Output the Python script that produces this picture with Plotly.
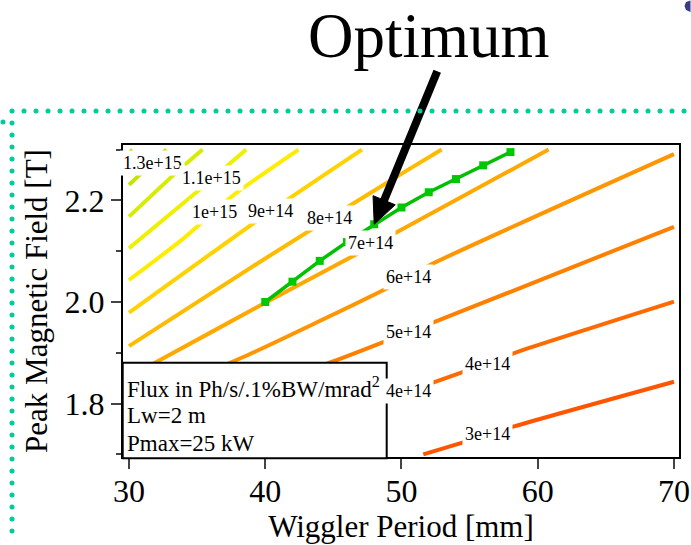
import plotly.graph_objects as go

# ---------------- data ----------------
period_ticks = [30, 40, 50, 60, 70]
field_ticks = [1.8, 2.0, 2.2]
field_tick_text = ["1.8", "2.0", "2.2"]
field_minor = [1.7, 1.9, 2.1, 2.3]

flux_levels = ["1.4e+15", "1.3e+15", "1.2e+15", "1.1e+15", "1e+15", "9e+14",
               "8e+14", "7e+14", "6e+14", "5e+14", "4e+14", "3e+14"]
contour_period = [
    [30.0, 30.25],
    [30.0, 32.75],
    [30.0, 33.5, 35.4],
    [30.0, 35.21, 38.6],
    [30.0, 33.87, 37.65, 42.45],
    [30.0, 40.35, 47.1],
    [30.0, 39.25, 44.75, 50.26, 52.95],
    [30.0, 32.28, 39.25, 46.59, 60.8],
    [30.0, 39.25, 49.16, 52.09, 70.0],
    [30.0, 45.24, 50.55, 58.33, 70.0],
    [37.2, 50.55, 54.54, 58.33, 70.0],
    [51.6, 54.42, 58.33, 70.0],
]
contour_field = [
    [2.2935, 2.30],
    [2.2305, 2.30],
    [2.168, 2.2556, 2.30],
    [2.1058, 2.222, 2.30],
    [2.0433, 2.1222, 2.21, 2.30],
    [1.979, 2.178, 2.30],
    [1.9133, 2.0729, 2.1655, 2.2567, 2.30],
    [1.8524, 1.8857, 1.9876, 2.0926, 2.30],
    [1.795, 1.9021, 2.0301, 2.0729, 2.291],
    [1.745, 1.8857, 1.9409, 2.0236, 2.148],
    [1.70, 1.8246, 1.8627, 1.9001, 2.0006],
    [1.70, 1.7228, 1.7557, 1.843],
]

label_text = ["1.3e+15", "1.1e+15", "1e+15", "9e+14", "8e+14", "7e+14",
              "6e+14", "5e+14", "4e+14", "4e+14", "3e+14"]
label_period = [31.7, 36.07, 36.31, 40.35, 44.75, 47.69, 50.55, 50.55, 50.55, 56.35, 56.35]
label_field = [2.2745, 2.2437, 2.178, 2.1793, 2.1655, 2.1163, 2.0493, 1.9409, 1.8246, 1.8778, 1.7399]

optimum_period = [40, 42, 44, 46, 48, 50, 52, 54, 56, 58]
optimum_field = [2.0, 2.040, 2.081, 2.118, 2.153, 2.186, 2.216, 2.242, 2.269, 2.295]

legend_lines = ["Flux in Ph/s/.1%BW/mrad<sup>2</sup>", "Lw=2 m", "Pmax=25 kW"]

# ---------------- styles ----------------
line_colors = ["#b4e000", "#c4e400", "#d6ec00", "#eef000", "#ffec00", "#ffd200",
               "#ffbb00", "#ffa800", "#ff9500", "#ff8000", "#ff6a00", "#ff5500"]
SERIF = "Liberation Serif, Times New Roman, serif"

W, H = 691, 545
ML, MR, MT, MB = 123, 12, 145, 88
PW, PH = W - ML - MR, H - MT - MB
XR = [29.56, 70.37]
YR = [1.695, 2.309]


def px2paper(px, py):
    return (px - ML) / PW, (H - MB - py) / PH


def data2px(x, y):
    return (ML + (x - XR[0]) / (XR[1] - XR[0]) * PW,
            H - MB - (y - YR[0]) / (YR[1] - YR[0]) * PH)


fig = go.Figure()

for lev, xs, ys, col in zip(flux_levels, contour_period, contour_field, line_colors):
    fig.add_trace(go.Scatter(x=xs, y=ys, mode="lines", name=lev,
                             line=dict(color=col, width=4, shape="spline", smoothing=0.6),
                             hoverinfo="skip", showlegend=False))

fig.add_trace(go.Scatter(x=optimum_period, y=optimum_field, mode="lines+markers",
                         line=dict(color="#00c000", width=3.5),
                         marker=dict(symbol="square", size=8, color="#00c800"),
                         showlegend=False, name="Optimum"))

annotations = []
for t, x, y in zip(label_text, label_period, label_field):
    annotations.append(dict(x=x, y=y, xref="x", yref="y", text=t, showarrow=False,
                            font=dict(family=SERIF, size=18, color="black"),
                            bgcolor="white", borderpad=2))

shapes = []
# legend box (white, covers the curves) and its three text lines
b0 = px2paper(122.7, 362.7)
b1 = px2paper(386.7, 458.3)
shapes.append(dict(type="rect", xref="paper", yref="paper", x0=b0[0], y0=b1[1], x1=b1[0], y1=b0[1],
                   fillcolor="white", line=dict(color="black", width=2), layer="above"))
for txt, cy in zip(legend_lines, [387, 415.5, 443]):
    tx, ty = px2paper(125, cy)
    annotations.append(dict(x=tx, y=ty, xref="paper", yref="paper", xanchor="left",
                            yanchor="middle", text=txt, showarrow=False,
                            font=dict(family=SERIF, size=23, color="black")))

# Optimum text
ox, oy = px2paper(429, 36)
annotations.append(dict(x=ox, y=oy, xref="paper", yref="paper", text="Optimum",
                        xanchor="center", yanchor="middle",
                        showarrow=False, font=dict(family=SERIF, size=63, color="black")))

# arrow pointing at the optimum point (period 48 mm)
tipx, tipy = data2px(optimum_period[4], optimum_field[4])
tailx, taily = tipx + 63, tipy - 153
dx, dy = tipx - tailx, tipy - taily
L = (dx * dx + dy * dy) ** 0.5
ux, uy = dx / L, dy / L
head_len, head_half = 26, 12
bx, by = tipx - head_len * ux, tipy - head_len * uy
c1 = (bx - head_half * uy, by + head_half * ux)
c2 = (bx + head_half * uy, by - head_half * ux)
a0 = px2paper(tailx, taily)
a1 = px2paper(bx + 3 * ux, by + 3 * uy)
shapes.append(dict(type="line", xref="paper", yref="paper", x0=a0[0], y0=a0[1], x1=a1[0], y1=a1[1],
                   line=dict(color="black", width=8), layer="above"))
pts = [px2paper(tipx, tipy), px2paper(*c1), px2paper(*c2)]
path = "M {} {} L {} {} L {} {} Z".format(pts[0][0], pts[0][1], pts[1][0], pts[1][1], pts[2][0], pts[2][1])
shapes.append(dict(type="path", xref="paper", yref="paper", path=path, fillcolor="black",
                   line=dict(color="black", width=1), layer="above"))

# dotted teal frame decoration
teal = "#00cc99"


def dot(px, py, r=2.5, col=teal):
    xa, ya = px2paper(px, py)
    return dict(type="circle", xref="paper", yref="paper", xsizemode="pixel",
                ysizemode="pixel", xanchor=xa, yanchor=ya, x0=-r, x1=r, y0=-r, y1=r,
                fillcolor=col, line=dict(width=0), layer="above")


for px in range(12, 688, 12):
    shapes.append(dot(px, 111))
for py in range(123, 541, 12):
    shapes.append(dot(12, py))
shapes.append(dot(3, 122))

# small dark blob at top-right corner (cut by the page edge)
blob = [px2paper(690.5, 0.5), px2paper(686, 2), px2paper(684.5, 6), px2paper(686, 10), px2paper(690.5, 12)]
bpath = "M " + " L ".join("{} {}".format(a, b) for a, b in blob) + " Z"
shapes.append(dict(type="path", xref="paper", yref="paper", path=bpath, fillcolor="#3a3a8a",
                   line=dict(width=0), layer="above"))

fig.update_layout(
    width=W, height=H, margin=dict(l=ML, r=MR, t=MT, b=MB, pad=0, autoexpand=False),
    paper_bgcolor="white", plot_bgcolor="white",
    font=dict(family=SERIF, color="black"),
    annotations=annotations, shapes=shapes,
    xaxis=dict(range=XR, tickvals=period_ticks, ticks="outside", ticklen=10,
               tickwidth=2, showline=True, linewidth=2, linecolor="black", mirror=True,
               showgrid=False, zeroline=False, tickfont=dict(size=32, family=SERIF),
               ticklabelstandoff=-5, automargin=False,
               title=dict(text="Wiggler Period [mm]", font=dict(size=31, family=SERIF), standoff=2)),
    yaxis=dict(range=YR, tickvals=field_ticks, ticktext=field_tick_text,
               ticks="outside", ticklen=10, tickwidth=2, showline=True, linewidth=2,
               linecolor="black", mirror=True, showgrid=False, zeroline=False,
               tickfont=dict(size=32, family=SERIF), automargin=False,
               minor=dict(tickvals=field_minor, ticks="outside", ticklen=5, tickwidth=2),
               title=dict(text="Peak Magnetic Field [T]", font=dict(size=31, family=SERIF), standoff=8)),
)

fig.write_html("out.html")
